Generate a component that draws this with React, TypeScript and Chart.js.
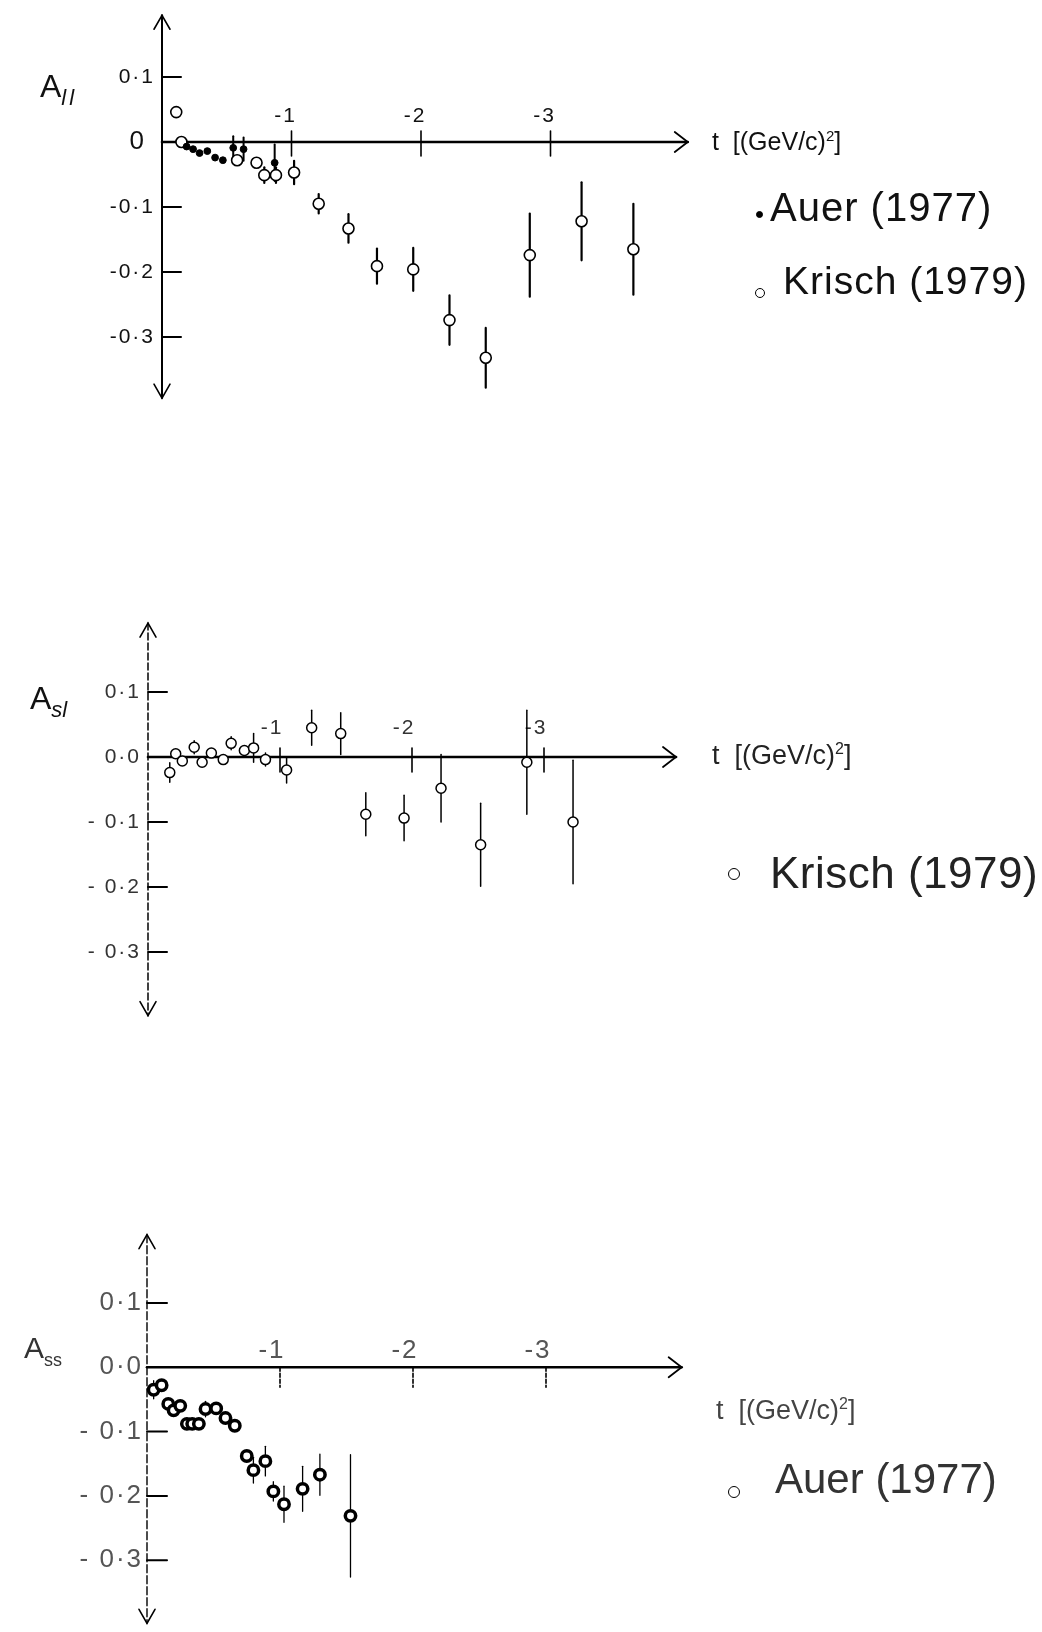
import React, { useEffect, useRef } from "react";
import { Chart, registerables } from "chart.js";

Chart.register(...registerables);

// ---------------- data ----------------
const X_TICKS = [-1, -2, -3];
const X_TICK_LABELS = ["-1", "-2", "-3"];
const Y_TICKS = [0.1, 0, -0.1, -0.2, -0.3];
const Y_TICK_LABELS_LL = ["0·1", "0", "-0·1", "-0·2", "-0·3"];
const Y_TICK_LABELS_SL = ["0·1", "0·0", "- 0·1", "- 0·2", "- 0·3"];
const Y_TICK_LABELS_SS = ["0·1", "0·0", "- 0·1", "- 0·2", "- 0·3"];

// Panel 1: A_ll
const LL_AUER_T = [-0.19, -0.24, -0.29, -0.35, -0.41, -0.47, -0.55, -0.63, -0.87];
const LL_AUER_A = [-0.007, -0.011, -0.017, -0.014, -0.024, -0.028, -0.009, -0.011, -0.032];
const LL_AUER_ERR = [0, 0, 0, 0, 0, 0, 0.018, 0.018, 0.028];

const LL_KRISCH_T = [-0.11, -0.15, -0.58, -0.73, -0.79, -0.88, -1.02, -1.21, -1.44, -1.66, -1.94, -2.22, -2.5, -2.84, -3.24, -3.64];
const LL_KRISCH_A = [0.046, 0.0, -0.028, -0.032, -0.051, -0.051, -0.047, -0.095, -0.133, -0.191, -0.196, -0.274, -0.332, -0.174, -0.122, -0.165];
const LL_KRISCH_ERR = [0, 0, 0, 0, 0.012, 0.012, 0.018, 0.015, 0.022, 0.027, 0.033, 0.038, 0.046, 0.064, 0.06, 0.07];

// Panel 2: A_sl
const SL_KRISCH_T = [-0.165, -0.21, -0.26, -0.35, -0.41, -0.48, -0.57, -0.63, -0.73, -0.8, -0.89, -1.05, -1.24, -1.46, -1.65, -1.94, -2.22, -2.52, -2.87, -3.22];
const SL_KRISCH_A = [-0.024, 0.005, -0.006, 0.015, -0.008, 0.006, -0.004, 0.021, 0.01, 0.014, -0.004, -0.02, 0.045, 0.036, -0.088, -0.094, -0.048, -0.135, -0.008, -0.1];
const SL_KRISCH_ERR = [0.015, 0, 0, 0.01, 0, 0, 0, 0.01, 0, 0.022, 0.01, 0.02, 0.027, 0.032, 0.033, 0.035, 0.052, 0.064, 0.08, 0.095];

// Panel 3: A_ss
const SS_AUER_T = [-0.05, -0.11, -0.16, -0.2, -0.25, -0.3, -0.34, -0.39, -0.44, -0.52, -0.59, -0.66, -0.75, -0.8, -0.89, -0.95, -1.03, -1.17, -1.3, -1.53];
const SS_AUER_A = [-0.035, -0.028, -0.057, -0.067, -0.06, -0.088, -0.088, -0.088, -0.065, -0.064, -0.079, -0.091, -0.138, -0.16, -0.146, -0.193, -0.213, -0.189, -0.167, -0.231];
const SS_AUER_ERR = [0.014, 0, 0, 0, 0, 0, 0, 0, 0.012, 0, 0, 0, 0, 0.02, 0.023, 0.015, 0.028, 0.035, 0.032, 0.095];

// ---------------- layout / style ----------------
const PAGE_W = 1042;
const FONT = '"Liberation Sans", Arial, sans-serif';

type Series = {
  label: string;
  t: number[];
  a: number[];
  err: number[];
  fill: string;
  radius: number;
  borderWidth: number;
  errWidth: number;
};

type Panel = {
  key: string;
  top: number;
  height: number;
  axisX: number;
  unitX: number;
  zeroY: number;
  unitY: number;
  xMax: number;
  yMin: number;
  yMax: number;
  series: Series[];
  yLabels: string[];
  tickFont: string;
  zeroFont: string;
  zeroGap: number;
  tickColor: string;
  yLabelGap: number;
  yTickLen: number;
  xTickUp: number;
  xTickDown: number;
  xLabelDx: number;
  xLabelDy: number;
  yAxisDash: number[];
  yAxisWidth: number;
  xTickDash: number[];
};

const PANELS: Panel[] = [
  {
    key: "ll",
    top: 0,
    height: 420,
    axisX: 162,
    unitX: 129.5,
    zeroY: 142,
    unitY: 650,
    xMax: 4.06,
    yMin: -0.394,
    yMax: 0.195,
    series: [
      { label: "Auer (1977)", t: LL_AUER_T, a: LL_AUER_A, err: LL_AUER_ERR, fill: "#000", radius: 3.4, borderWidth: 1, errWidth: 2 },
      { label: "Krisch (1979)", t: LL_KRISCH_T, a: LL_KRISCH_A, err: LL_KRISCH_ERR, fill: "#fff", radius: 5.5, borderWidth: 1.6, errWidth: 2.2 },
    ],
    yLabels: Y_TICK_LABELS_LL,
    tickFont: "21px " + FONT,
    zeroFont: "26px " + FONT,
    zeroGap: 16,
    tickColor: "#111",
    yLabelGap: 7,
    yTickLen: 19,
    xTickUp: 11,
    xTickDown: 14,
    xLabelDx: -6,
    xLabelDy: -26,
    yAxisDash: [],
    yAxisWidth: 2,
    xTickDash: [],
  },
  {
    key: "sl",
    top: 600,
    height: 430,
    axisX: 148,
    unitX: 132,
    zeroY: 757,
    unitY: 650,
    xMax: 4.0,
    yMin: -0.398,
    yMax: 0.206,
    series: [
      { label: "Krisch (1979)", t: SL_KRISCH_T, a: SL_KRISCH_A, err: SL_KRISCH_ERR, fill: "#fff", radius: 5, borderWidth: 1.5, errWidth: 1.5 },
    ],
    yLabels: Y_TICK_LABELS_SL,
    tickFont: "21px " + FONT,
    zeroFont: "21px " + FONT,
    zeroGap: 7,
    tickColor: "#333",
    yLabelGap: 7,
    yTickLen: 19,
    xTickUp: 9,
    xTickDown: 15,
    xLabelDx: -8,
    xLabelDy: -29,
    yAxisDash: [7, 3],
    yAxisWidth: 1.5,
    xTickDash: [],
  },
  {
    key: "ss",
    top: 1220,
    height: 412,
    axisX: 147,
    unitX: 133,
    zeroY: 1369,
    unitY: 652,
    xMax: 4.02,
    yMin: -0.398,
    yMax: 0.206,
    series: [
      { label: "Auer (1977)", t: SS_AUER_T, a: SS_AUER_A, err: SS_AUER_ERR, fill: "#fff", radius: 5.2, borderWidth: 3.5, errWidth: 1.3 },
    ],
    yLabels: Y_TICK_LABELS_SS,
    tickFont: "26px " + FONT,
    zeroFont: "26px " + FONT,
    zeroGap: 4,
    tickColor: "#555",
    yLabelGap: 4,
    yTickLen: 20,
    xTickUp: 0,
    xTickDown: 20,
    xLabelDx: -8,
    xLabelDy: -16,
    yAxisDash: [8, 3],
    yAxisWidth: 1.4,
    xTickDash: [4, 2],
  },
];

function makePlugin(p: Panel) {
  return {
    id: "handAxes_" + p.key,
    beforeDatasetsDraw(chart: any) {
      const xs = chart.scales.x;
      const ys = chart.scales.y;
      const ctx: CanvasRenderingContext2D = chart.ctx;
      const x0 = xs.getPixelForValue(0);
      const y0 = ys.getPixelForValue(0);
      const xEnd = xs.getPixelForValue(-p.xMax);
      const yTop = ys.getPixelForValue(p.yMax);
      const yBot = ys.getPixelForValue(p.yMin);
      ctx.save();
      ctx.strokeStyle = "#000";
      ctx.lineCap = "round";

      // x axis
      ctx.lineWidth = 2.6;
      ctx.beginPath();
      ctx.moveTo(x0, y0);
      ctx.lineTo(xEnd, y0);
      ctx.stroke();
      ctx.lineWidth = 1.8;
      ctx.beginPath();
      ctx.moveTo(xEnd - 13, y0 - 10);
      ctx.lineTo(xEnd, y0);
      ctx.lineTo(xEnd - 13, y0 + 10);
      ctx.stroke();

      // y axis
      ctx.setLineDash(p.yAxisDash);
      ctx.lineWidth = p.yAxisWidth;
      ctx.beginPath();
      ctx.moveTo(x0, yTop);
      ctx.lineTo(x0, yBot);
      ctx.stroke();
      ctx.setLineDash([]);
      ctx.lineWidth = 1.6;
      ctx.beginPath();
      ctx.moveTo(x0 - 8, yTop + 14);
      ctx.lineTo(x0, yTop);
      ctx.lineTo(x0 + 8, yTop + 14);
      ctx.moveTo(x0 - 8, yBot - 14);
      ctx.lineTo(x0, yBot);
      ctx.lineTo(x0 + 8, yBot - 14);
      ctx.stroke();

      // y ticks and labels
      ctx.fillStyle = p.tickColor;
      (ctx as any).letterSpacing = "2px";
      ctx.textAlign = "right";
      ctx.textBaseline = "middle";
      Y_TICKS.forEach((v, i) => {
        const y = ys.getPixelForValue(v);
        if (v !== 0) {
          ctx.lineWidth = 2;
          ctx.beginPath();
          ctx.moveTo(x0, y);
          ctx.lineTo(x0 + p.yTickLen, y);
          ctx.stroke();
          ctx.font = p.tickFont;
          ctx.fillText(p.yLabels[i], x0 - p.yLabelGap, y);
        } else {
          ctx.font = p.zeroFont;
          ctx.fillText(p.yLabels[i], x0 - p.zeroGap, y);
        }
      });

      // x ticks and labels
      ctx.font = p.tickFont;
      ctx.textAlign = "center";
      X_TICKS.forEach((v, i) => {
        const x = xs.getPixelForValue(v);
        ctx.setLineDash(p.xTickDash);
        ctx.lineWidth = 1.6;
        ctx.beginPath();
        ctx.moveTo(x, y0 - p.xTickUp);
        ctx.lineTo(x, y0 + p.xTickDown);
        ctx.stroke();
        ctx.setLineDash([]);
        ctx.fillText(X_TICK_LABELS[i], x + p.xLabelDx, y0 + p.xLabelDy);
      });

      // error bars
      p.series.forEach((s) => {
        ctx.lineWidth = s.errWidth;
        s.t.forEach((t, j) => {
          const e = s.err[j];
          if (!e) return;
          const x = xs.getPixelForValue(t);
          ctx.beginPath();
          ctx.moveTo(x, ys.getPixelForValue(s.a[j] + e));
          ctx.lineTo(x, ys.getPixelForValue(s.a[j] - e));
          ctx.stroke();
        });
      });
      ctx.restore();
    },
  };
}

function PanelChart({ p }: { p: Panel }) {
  const ref = useRef<HTMLCanvasElement | null>(null);
  useEffect(() => {
    if (!ref.current) return;
    const right = p.axisX + p.xMax * p.unitX;
    const areaTop = p.zeroY - p.yMax * p.unitY - p.top;
    const areaBottom = p.zeroY - p.yMin * p.unitY - p.top;
    const chart = new Chart(ref.current, {
      type: "scatter",
      data: {
        datasets: p.series.map((s) => ({
          label: s.label,
          data: s.t.map((t, i) => ({ x: t, y: s.a[i] })),
          pointRadius: s.radius,
          pointBackgroundColor: s.fill,
          pointBorderColor: "#000",
          pointBorderWidth: s.borderWidth,
          clip: false as any,
        })),
      },
      options: {
        responsive: false,
        animation: false,
        events: [],
        layout: {
          padding: {
            left: p.axisX,
            right: PAGE_W - right,
            top: areaTop,
            bottom: p.height - areaBottom,
          },
        },
        plugins: {
          legend: { display: false },
          tooltip: { enabled: false },
        },
        scales: {
          x: { type: "linear", min: -p.xMax, max: 0, reverse: true, display: false },
          y: { type: "linear", min: p.yMin, max: p.yMax, display: false },
        },
      },
      plugins: [makePlugin(p)],
    });
    return () => chart.destroy();
  }, [p]);
  return (
    <canvas
      ref={ref}
      width={PAGE_W}
      height={p.height}
      style={{ position: "absolute", left: 0, top: p.top, width: PAGE_W, height: p.height }}
    />
  );
}

const txt = (extra: React.CSSProperties): React.CSSProperties => ({
  position: "absolute",
  fontFamily: FONT,
  lineHeight: 1,
  whiteSpace: "nowrap",
  color: "#111",
  ...extra,
});

const dot = (x: number, y: number, r: number, filled: boolean, bw: number): React.CSSProperties => ({
  position: "absolute",
  left: x - r,
  top: y - r,
  width: 2 * r,
  height: 2 * r,
  boxSizing: "border-box",
  borderRadius: "50%",
  border: `${bw}px solid #000`,
  background: filled ? "#000" : "#fff",
});

export default function App() {
  return (
    <div style={{ position: "absolute", left: 0, top: 0, width: PAGE_W, height: 1632, background: "#fff", overflow: "hidden" }}>
      {PANELS.map((p) => (
        <PanelChart key={p.key} p={p} />
      ))}

      {/* Panel 1 */}
      <div style={txt({ left: 40, top: 70, fontSize: 32 })}>
        A<span style={{ fontSize: 22, fontStyle: "italic", position: "relative", top: 8, letterSpacing: 3 }}>ll</span>
      </div>
      <div style={txt({ left: 712, top: 128, fontSize: 25 })}>
        t&nbsp;&nbsp;[(GeV/c)<sup style={{ fontSize: 15 }}>2</sup>]
      </div>
      <div style={dot(759, 214, 3.5, true, 1)} />
      <div style={txt({ left: 770, top: 187, fontSize: 40, letterSpacing: 1 })}>Auer (1977)</div>
      <div style={dot(760, 293, 5, false, 1.5)} />
      <div style={txt({ left: 783, top: 261, fontSize: 39, letterSpacing: 1 })}>Krisch (1979)</div>

      {/* Panel 2 */}
      <div style={txt({ left: 30, top: 682, fontSize: 32 })}>
        A<span style={{ fontSize: 22, fontStyle: "italic", position: "relative", top: 8 }}>sl</span>
      </div>
      <div style={txt({ left: 712, top: 741, fontSize: 27, color: "#222" })}>
        t&nbsp;&nbsp;[(GeV/c)<sup style={{ fontSize: 16 }}>2</sup>]
      </div>
      <div style={dot(734, 874, 6, false, 1.6)} />
      <div style={txt({ left: 770, top: 851, fontSize: 44, color: "#222", letterSpacing: 0.5 })}>Krisch (1979)</div>

      {/* Panel 3 */}
      <div style={txt({ left: 24, top: 1333, fontSize: 30, color: "#333" })}>
        A<span style={{ fontSize: 18, position: "relative", top: 8 }}>ss</span>
      </div>
      <div style={txt({ left: 716, top: 1396, fontSize: 27, color: "#444" })}>
        t&nbsp;&nbsp;[(GeV/c)<sup style={{ fontSize: 16 }}>2</sup>]
      </div>
      <div style={dot(734, 1492, 6, false, 1.6)} />
      <div style={txt({ left: 775, top: 1458, fontSize: 42, color: "#333" })}>Auer (1977)</div>
    </div>
  );
}
